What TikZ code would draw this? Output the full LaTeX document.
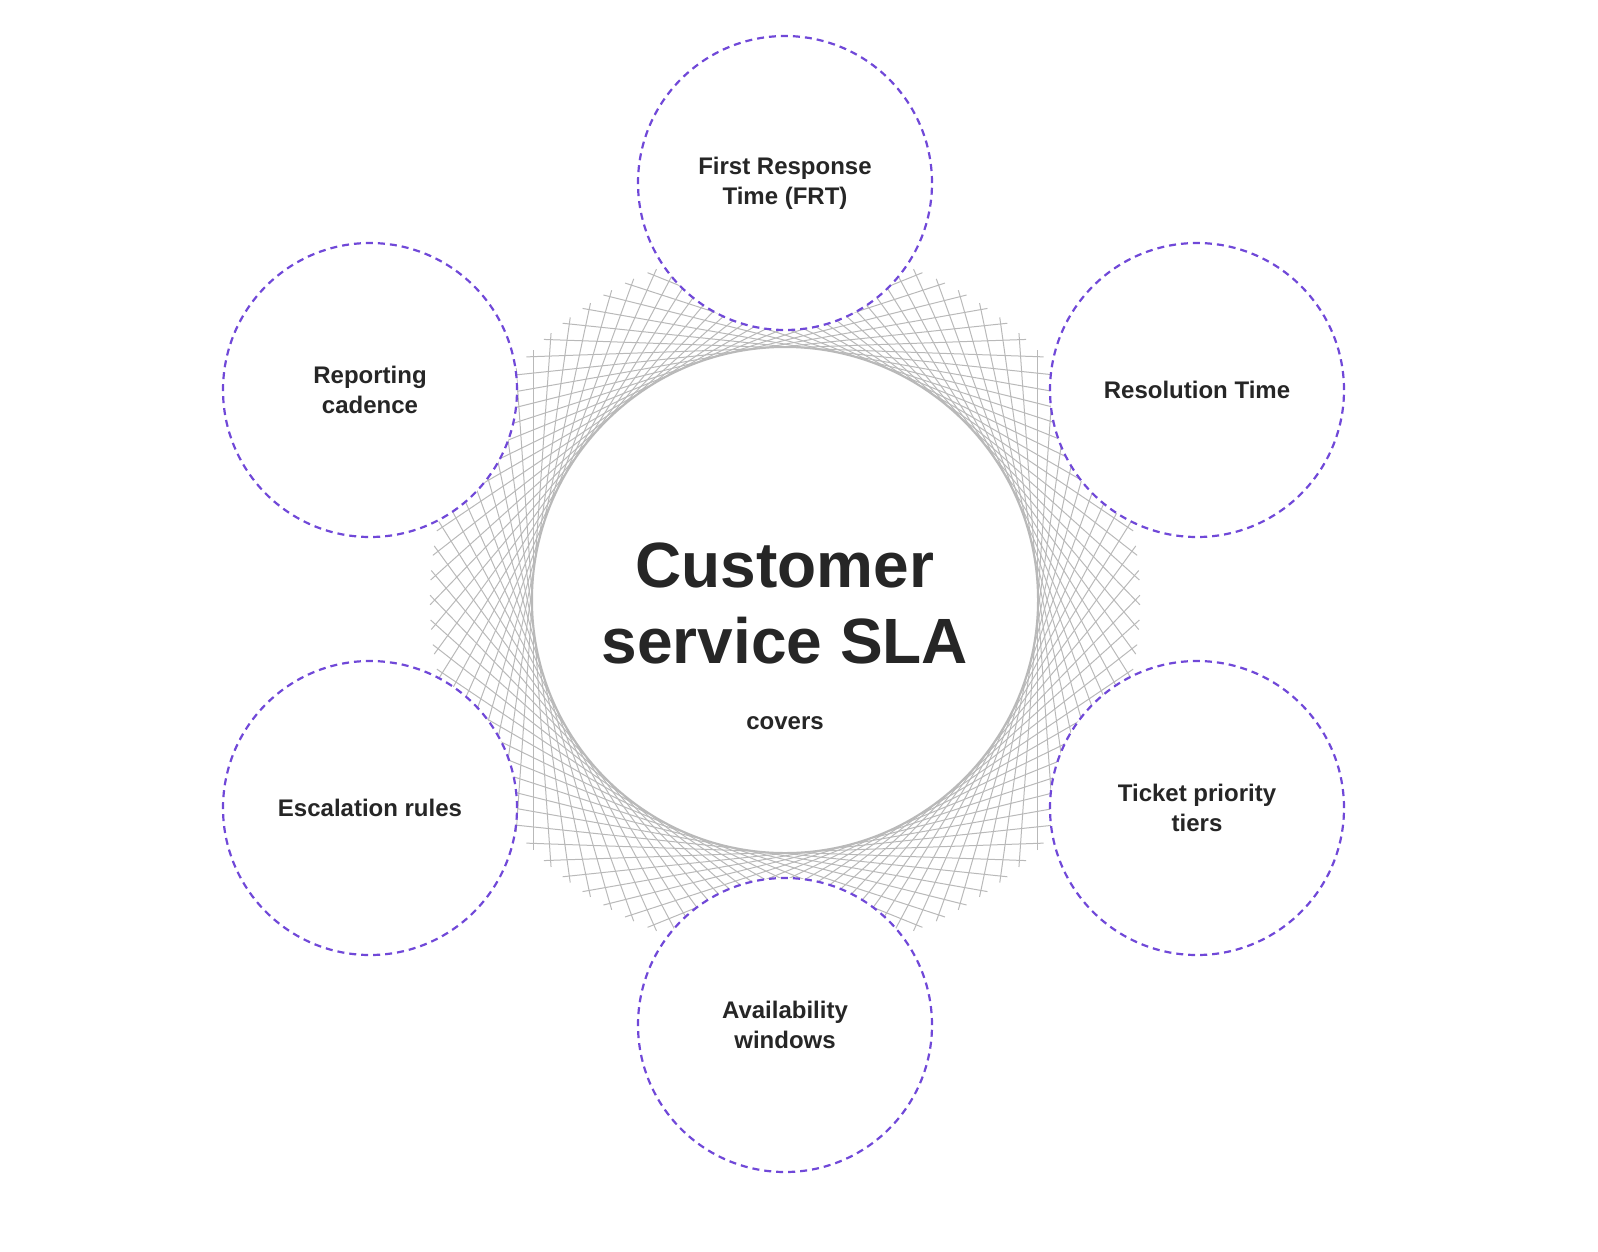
\documentclass[tikz,border=0pt]{standalone}
\usepackage{fontspec}
\setmainfont{Liberation Sans}
\usetikzlibrary{calc}
\definecolor{purp}{HTML}{7048D8}
\begin{document}
\begin{tikzpicture}[x=1pt,y=-1pt,
  sat/.style={circle,draw=purp,dashed,dash pattern=on 7pt off 5pt,line width=2.2pt,fill=white,minimum size=294pt,inner sep=0pt,align=center,font=\fontsize{24}{30}\selectfont\bfseries,text=black!85},
  hub/.style={circle,draw=gray!55,line width=2pt,fill=white,minimum size=506pt,inner sep=0pt},
  ray/.style={draw=gray!55,line width=1pt}]
\useasboundingbox (0,0) rectangle (1598,1251);
\coordinate (c) at (785,600);
\foreach \a in {0,4,...,356}{
  \draw[ray] ($(c)+(\a:252)+(\a+90:250)$) -- ($(c)+(\a:252)+(\a-90:250)$);
}
\node[hub] (hub) at (c) {};
\node[align=center,font=\fontsize{64}{76}\selectfont\bfseries,text=black!85] (title) at (785,603) {Customer\\service SLA};
\node[font=\fontsize{24}{28}\selectfont\bfseries,text=black!85] (cov) at (785,723) {covers};
\node[sat] (frt) at (785,183) {First Response\\Time (FRT)};
\node[sat] (res) at (1197,390) {Resolution Time};
\node[sat] (tic) at (1197,808) {Ticket priority\\tiers};
\node[sat] (ava) at (785,1025) {Availability\\windows};
\node[sat] (esc) at (370,808) {Escalation rules};
\node[sat] (rep) at (370,390) {Reporting\\cadence};
\end{tikzpicture}
\end{document}
